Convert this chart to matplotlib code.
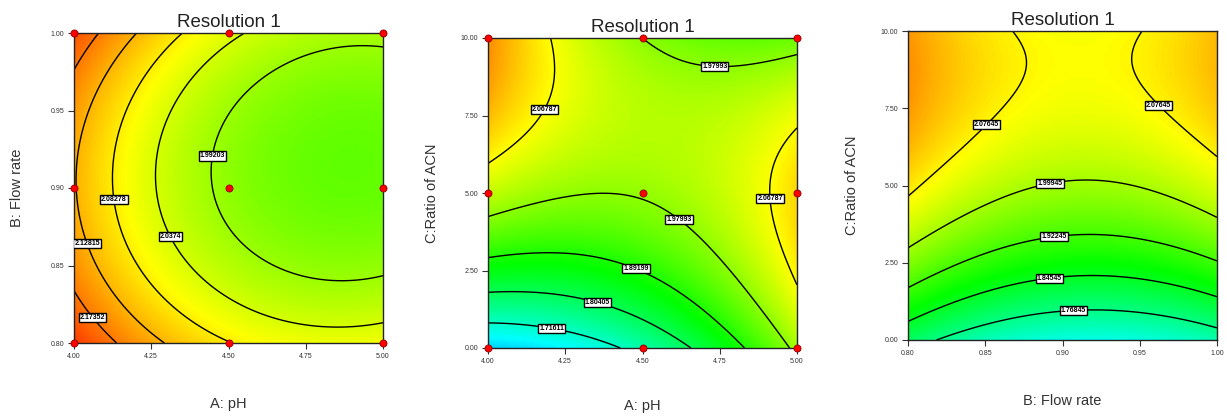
import numpy as np
import matplotlib
matplotlib.use("Agg")
import matplotlib.pyplot as plt
from matplotlib.colors import LinearSegmentedColormap

# ---------------- data ----------------
title = "Resolution 1"

# factor ranges (actual units)
ph_range = [4.0, 5.0]
flow_range = [0.80, 1.00]
acn_range = [0.0, 10.0]

# tick labels
ph_ticks = [4.00, 4.25, 4.50, 4.75, 5.00]
flow_ticks = [0.80, 0.85, 0.90, 0.95, 1.00]
acn_ticks = [0.00, 2.50, 5.00, 7.50, 10.00]

# quadratic model coefficients (coded units): [b0, bx, by, bxy, bxx, byy]
coef_ph_flow = [1.98195, -0.09115, -0.01864, -0.0103, 0.058, 0.084]
coef_ph_acn = [1.985, 0.0382, 0.1197, -0.1413, 0.0758, -0.125]
coef_flow_acn = [1.99475, -0.0225, 0.1847, 0.0087, 0.07205, -0.115]

# contour levels
levels_ph_flow = [1.99203, 2.0374, 2.08278, 2.12815, 2.17352]
levels_ph_acn = [1.71611, 1.80405, 1.89199, 1.97993, 2.06787]
levels_flow_acn = [1.76845, 1.84545, 1.92245, 1.99945, 2.07645]

# design points
pts_ph_flow_x = [4.0, 4.5, 5.0, 4.0, 4.5, 5.0, 4.0, 4.5, 5.0]
pts_ph_flow_y = [1.0, 1.0, 1.0, 0.9, 0.9, 0.9, 0.8, 0.8, 0.8]
pts_ph_acn_x = [4.0, 4.5, 5.0, 4.0, 4.5, 5.0, 4.0, 4.5, 5.0]
pts_ph_acn_y = [10.0, 10.0, 10.0, 5.0, 5.0, 5.0, 0.0, 0.0, 0.0]

# label placement hints (layout)
lab_ph_flow = [(4.45, 0.9206), (4.317, 0.869), (4.139, 0.893), (4.068, 0.866), (4.068, 0.818)]
lab_ph_acn = [(4.21, 0.82), (4.357, 1.57), (4.48, 2.57), (4.61, 4.05), (4.735, 9.38),
              (4.187, 7.68), (4.896, 4.80)]
lab_flow_acn = [(0.907, 1.17), (0.891, 2.21), (0.894, 3.56), (0.891, 5.31),
                (0.847, 7.15), (0.965, 7.74)]

# ---------------- style ----------------
cmap = LinearSegmentedColormap.from_list(
    "de", ["#0000ff", "#00ffff", "#00ff00", "#ffff00", "#ff0000"])
VMIN, VMAX = 1.47, 2.27

plt.rcParams['font.family'] = ['Liberation Sans', 'DejaVu Sans']

fig = plt.figure(figsize=(12.27, 4.16), dpi=100)

axes_rects = [
    [74 / 1227, (416 - 343) / 416, 309 / 1227, 310 / 416],
    [488 / 1227, (416 - 348) / 416, 309 / 1227, 310 / 416],
    [908 / 1227, (416 - 340) / 416, 309 / 1227, 309 / 416],
]


def coded(v, rng):
    return (np.asarray(v) - (rng[0] + rng[1]) / 2) / ((rng[1] - rng[0]) / 2)


def surface(coef, X, Y, xr, yr):
    a = coded(X, xr)
    b = coded(Y, yr)
    return (coef[0] + coef[1] * a + coef[2] * b + coef[3] * a * b
            + coef[4] * a ** 2 + coef[5] * b ** 2)


def panel(rect, xr, yr, coef, levels, xticks, yticks, xlabel, ylabel,
          labpos, ptsx=None, ptsy=None, xlab_pad=26, ylab_pad=17):
    ax = fig.add_axes(rect)
    x = np.linspace(xr[0], xr[1], 300)
    y = np.linspace(yr[0], yr[1], 300)
    X, Y = np.meshgrid(x, y)
    Z = surface(coef, X, Y, xr, yr)
    ax.imshow(Z, extent=[xr[0], xr[1], yr[0], yr[1]], origin='lower',
              cmap=cmap, vmin=VMIN, vmax=VMAX, aspect='auto',
              interpolation='bilinear')
    cs = ax.contour(X, Y, Z, levels=levels, colors='black', linewidths=1.0)
    fmt = {lv: ("%.5f" % lv).rstrip('0') for lv in levels}
    texts = ax.clabel(cs, levels, inline=False, fmt=fmt, fontsize=5,
                      manual=labpos, colors='black')
    for t in texts:
        t.set_rotation(0)
        t.set_fontweight('bold')
        t.set_bbox(dict(boxstyle='square,pad=0.15', fc='white', ec='black', lw=1.0))
    if ptsx is not None:
        ax.scatter(ptsx, ptsy, s=26, c='#ff0000', edgecolors='#8b0000',
                   linewidths=0.6, zorder=5, clip_on=False)
    ax.set_xlim(xr)
    ax.set_ylim(yr)
    ax.set_xticks(xticks)
    ax.set_yticks(yticks)
    ax.set_xticklabels(["%.2f" % v for v in xticks])
    ax.set_yticklabels(["%.2f" % v for v in yticks])
    ax.tick_params(direction='out', length=4, width=0.8, labelsize=5,
                   colors='#333333', pad=3)
    for s in ax.spines.values():
        s.set_color('#222222')
        s.set_linewidth(1.0)
    ax.set_title(title, fontsize=13.5, color='#222222', pad=4)
    ax.set_xlabel(xlabel, fontsize=10.5, color='#333333', labelpad=xlab_pad)
    ax.set_ylabel(ylabel, fontsize=10.5, color='#333333', labelpad=ylab_pad)
    return ax


panel(axes_rects[0], ph_range, flow_range, coef_ph_flow, levels_ph_flow,
      ph_ticks, flow_ticks, "A: pH", "B: Flow rate", lab_ph_flow,
      pts_ph_flow_x, pts_ph_flow_y, xlab_pad=27, ylab_pad=19)
panel(axes_rects[1], ph_range, acn_range, coef_ph_acn, levels_ph_acn,
      ph_ticks, acn_ticks, "A: pH", "C:Ratio of ACN", lab_ph_acn,
      pts_ph_acn_x, pts_ph_acn_y, xlab_pad=25, ylab_pad=16)
panel(axes_rects[2], flow_range, acn_range, coef_flow_acn, levels_flow_acn,
      flow_ticks, acn_ticks, "B: Flow rate", "C:Ratio of ACN", lab_flow_acn,
      xlab_pad=27, ylab_pad=16)

fig.savefig("out.png", dpi=100)
